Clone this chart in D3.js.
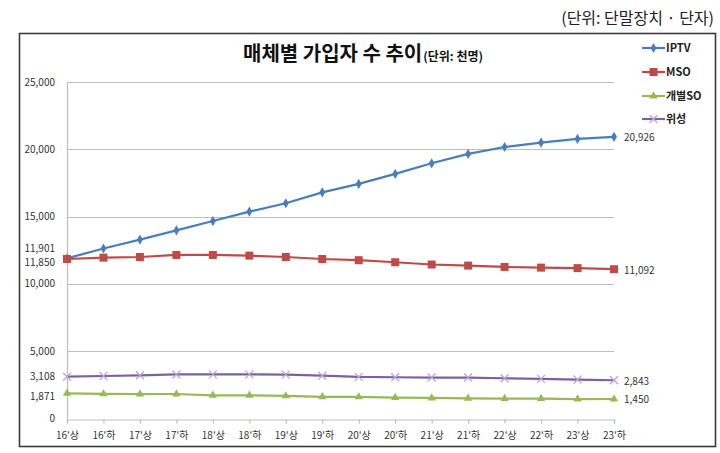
<!DOCTYPE html>
<html><head><meta charset="utf-8">
<script src="https://cdn.jsdelivr.net/npm/d3@7"></script>
<style>
html,body{margin:0;padding:0;background:#fff;}
svg{display:block;font-family:"Noto Sans CJK KR","Noto Sans",sans-serif;}
</style></head>
<body><svg id="c" width="720" height="453"></svg>
<script>
const categories = ["16'상","16'하","17'상","17'하","18'상","18'하","19'상","19'하","20'상","20'하","21'상","21'하","22'상","22'하","23'상","23'하"];
const seriesNames = ["IPTV","MSO","개별SO","위성"];
const iptv   = [11901,12630,13290,13980,14670,15370,15990,16800,17430,18170,18960,19660,20170,20500,20770,20926];
const mso    = [11850,11950,12000,12150,12150,12100,12000,11850,11760,11610,11440,11360,11260,11210,11170,11092];
const indSO  = [1871,1825,1821,1820,1725,1722,1675,1610,1600,1550,1525,1500,1478,1475,1445,1450];
const sat    = [3108,3158,3207,3275,3281,3281,3257,3182,3091,3066,3041,3041,2992,2942,2893,2843];
const gridTicks = [0,5000,10000,15000,20000,25000];
const yLabelValues = [25000,20000,15000,11901,11850,10000,5000,3108,1871,0];
const title = "매체별 가입자 수 추이";
const titleUnit = "(단위: 천명)";
const note = "(단위:  단말장치 · 단자)";

const colors = ["#4A7EBB","#BE4B48","#98B954","#7D60A0"];
const data = [iptv, mso, indSO, sat];

const svg = d3.select("#c");
// outer note
svg.append("text").attr("x",714).attr("y",24).attr("text-anchor","end")
  .attr("font-size",16).attr("fill","#222").text(note);
// chart frame
svg.append("rect").attr("x",19.5).attr("y",33.5).attr("width",696).attr("height",413)
  .attr("fill","#fff").attr("stroke","#3a3a3a").attr("stroke-width",1.6);

const x = d3.scalePoint().domain(categories).range([67,614]);
const y = d3.scaleLinear().domain([0,25000]).range([418.5,82]);

// gridlines
svg.append("g").selectAll("line").data(gridTicks.filter(d=>d>0)).join("line")
  .attr("x1",67).attr("x2",614).attr("y1",d=>Math.round(y(d))+0.5).attr("y2",d=>Math.round(y(d))+0.5)
  .attr("stroke","#bdbdbd").attr("stroke-width",1.2);
// y axis line
svg.append("line").attr("x1",67.5).attr("x2",67.5).attr("y1",y(25000)).attr("y2",y(0)+0.5)
  .attr("stroke","#bdbdbd").attr("stroke-width",1.2);
// x axis with ticks
const xAxis = d3.axisBottom(x).tickSize(4).tickPadding(6);
const xg = svg.append("g").attr("transform",`translate(0,${Math.round(y(0))+0.5})`).call(xAxis);
xg.select(".domain").attr("stroke","#bdbdbd").attr("stroke-width",1.2);
xg.selectAll(".tick line").attr("stroke","#bdbdbd").attr("stroke-width",1.2);
xg.selectAll(".tick text").attr("font-size",10).attr("fill","#333")
  .attr("font-family","'Noto Sans CJK KR',sans-serif").attr("dy","0.9em");

// y labels (custom)
const nudge = {11901:-10, 11850:4, 1871:3};
const fmt = d3.format(",");
svg.append("g").selectAll("text").data(yLabelValues).join("text")
  .attr("x",55).attr("y",d=>y(d)+(nudge[d]||0)).attr("dy","0.35em").attr("text-anchor","end")
  .attr("font-size",10).attr("fill","#333").text(d=>fmt(d));

// lines
const line = d3.line().x((d,i)=>x(categories[i])).y(d=>y(d));
data.forEach((s,k)=>{
  svg.append("path").datum(s).attr("d",line).attr("fill","none")
    .attr("stroke",colors[k]).attr("stroke-width",2.2).attr("stroke-linejoin","round");
});

function marker(g, k, cx, cy){
  if(k===0){
    g.append("path").attr("d",d3.symbol(d3.symbolDiamond, 30)())
     .attr("transform",`translate(${cx},${cy})`).attr("fill",colors[0]);
  } else if(k===1){
    g.append("rect").attr("x",cx-4).attr("y",cy-4).attr("width",8).attr("height",8).attr("fill",colors[1]);
  } else if(k===2){
    g.append("path").attr("d",d3.symbol(d3.symbolTriangle, 30)())
     .attr("transform",`translate(${cx},${cy})`).attr("fill",colors[2]);
  } else {
    g.append("path").attr("d",`M${cx-4},${cy-4}L${cx+4},${cy+4}M${cx-4},${cy+4}L${cx+4},${cy-4}`)
     .attr("stroke","#B9A6D4").attr("stroke-width",1.3);
  }
}
data.forEach((s,k)=>{
  const g = svg.append("g");
  s.forEach((v,i)=>marker(g,k,x(categories[i]),y(v)));
});

// end labels
data.forEach((s,k)=>{
  svg.append("text").attr("x",624).attr("y",y(s[s.length-1])+1).attr("dy","0.35em")
    .attr("font-size",10).attr("fill","#333").text(fmt(s[s.length-1]));
});

// title
const t = svg.append("text").attr("x",243).attr("y",61).attr("font-weight","bold").attr("fill","#111");
t.append("tspan").attr("font-size",20).text(title);
t.append("tspan").attr("font-size",12).attr("dx",1).text(titleUnit);

// legend
const legY = [48,72,96,119];
seriesNames.forEach((n,k)=>{
  const g = svg.append("g");
  g.append("line").attr("x1",642).attr("x2",665).attr("y1",legY[k]).attr("y2",legY[k])
    .attr("stroke",colors[k]).attr("stroke-width",2.2);
  marker(g,k,653.5,legY[k]);
  g.append("text").attr("x",666).attr("y",legY[k]).attr("dy","0.36em").attr("font-size",11)
    .attr("font-weight","bold").attr("fill","#222").text(n);
});
</script></body></html>
